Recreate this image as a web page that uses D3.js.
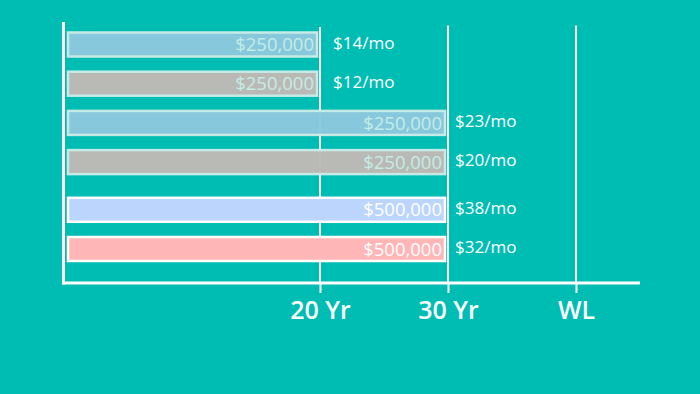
<!DOCTYPE html>
<html>
<head>
<meta charset="utf-8">
<script src="https://cdn.jsdelivr.net/npm/d3@7"></script>
<style>
  html, body { margin: 0; padding: 0; background: #00bdb4; }
  svg { display: block; font-family: "Open Sans", "Lato", sans-serif; }
</style>
</head>
<body>
<svg id="chart" width="700" height="394"></svg>
<script>
// data
const rows = ["a", "b", "c", "d", "e", "f"]
const groups = ["A", "A", "A", "A", "B", "B"]
const terms = [20, 20, 30, 30, 30, 30]
const amounts = ["$250,000", "$250,000", "$250,000", "$250,000", "$500,000", "$500,000"]
const monthly = ["$14/mo", "$12/mo", "$23/mo", "$20/mo", "$38/mo", "$32/mo"]
const tickValues = [20, 30, 40]
const tickLabels = ["20 Yr", "30 Yr", "WL"]

// styles for each row
const fills = ["#8cc8dd", "#bfb9b6", "#8cc8dd", "#bfb9b6", "#bbd5fc", "#ffb6b6"]
const strokes = ["#c6eae5", "#c6eae5", "#c6eae5", "#c6eae5", "#ffffff", "#ffffff"]
const innerText = ["#c4ede6", "#c4ede6", "#c4ede6", "#c4ede6", "#ffffff", "#ffffff"]

const svg = d3.select("#chart")
const axisY = 283
const groupGap = 8.5
const barH = 24

const x = d3.scaleLinear().domain([0, 45]).range([64, 640])
const y = d3.scalePoint().domain(rows).range([44.5, 240.5])
const cy = (i) => y(rows[i]) + (groups[i] === "B" ? groupGap : 0)

// vertical gridlines
svg.append("g")
  .selectAll("line")
  .data(tickValues)
  .join("line")
  .attr("x1", d => x(d))
  .attr("x2", d => x(d))
  .attr("y1", (d, i) => i === 0 ? 27 : 25.5)
  .attr("y2", axisY)
  .attr("stroke", "#ffffff")
  .attr("stroke-width", 2)

// bars
const bars = svg.append("g")
  .selectAll("g")
  .data(rows)
  .join("g")

bars.append("rect")
  .attr("x", x(0) + 4)
  .attr("y", (d, i) => cy(i) - barH / 2)
  .attr("width", (d, i) => x(terms[i]) - x(0) - 7)
  .attr("height", barH)
  .attr("fill", (d, i) => fills[i])
  .attr("fill-opacity", (d, i) => groups[i] === "A" ? 0.97 : 1)
  .attr("stroke", (d, i) => strokes[i])
  .attr("stroke-width", 2.5)

bars.append("text")
  .attr("x", (d, i) => x(terms[i]) - 6)
  .attr("y", (d, i) => cy(i))
  .attr("dy", "0.36em")
  .attr("text-anchor", "end")
  .attr("font-size", 18.5)
  .attr("fill", (d, i) => innerText[i])
  .text((d, i) => amounts[i])

bars.append("text")
  .attr("x", (d, i) => x(terms[i]) + (terms[i] === 20 ? 13 : 7))
  .attr("y", (d, i) => cy(i) - 2)
  .attr("dy", "0.36em")
  .attr("font-size", 17)
  .attr("fill", "#ffffff")
  .text((d, i) => monthly[i])

// bottom axis
const xAxis = svg.append("g")
  .attr("transform", "translate(0," + axisY + ")")
  .call(d3.axisBottom(x)
    .tickValues(tickValues)
    .tickFormat((d, i) => tickLabels[i])
    .tickSize(10)
    .tickPadding(8))

xAxis.select(".domain")
  .attr("d", "M" + (x(0) - 2) + ",0H" + x(45))
  .attr("stroke", "#ffffff")
  .attr("stroke-width", 3)
xAxis.selectAll(".tick line").attr("stroke", "#ffffff").attr("stroke-width", 2)
xAxis.selectAll(".tick text")
  .attr("fill", "#ffffff")
  .attr("font-size", 25)
  .attr("font-weight", 600)
  .attr("font-family", "'Open Sans', Lato, sans-serif")

// left axis line
svg.append("line")
  .attr("x1", x(0) - 0.5)
  .attr("x2", x(0) - 0.5)
  .attr("y1", 22)
  .attr("y2", axisY + 1.5)
  .attr("stroke", "#ffffff")
  .attr("stroke-width", 3)
</script>
</body>
</html>
